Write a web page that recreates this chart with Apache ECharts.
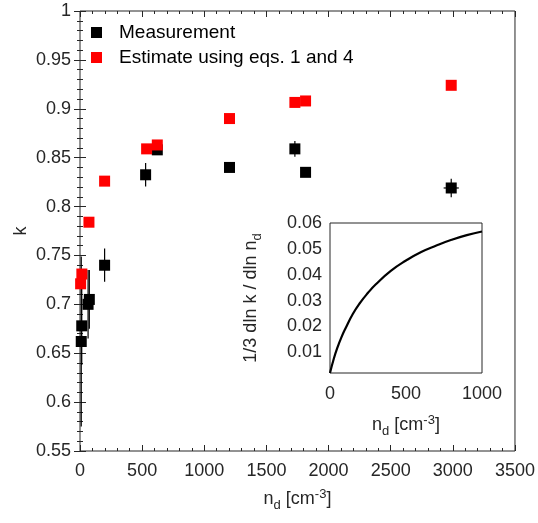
<!DOCTYPE html>
<html>
<head>
<meta charset="utf-8">
<script src="https://cdn.jsdelivr.net/npm/echarts@6/dist/echarts.min.js"></script>
<style>
  html, body { margin: 0; padding: 0; background: #fff; }
  #chart { width: 538px; height: 523px; }
</style>
</head>
<body>
<div id="chart"></div>
<script>
// measured k with error bars
var measX = [10, 14, 65, 75, 198, 528, 622, 1203, 1729, 1815, 2987]
var measK = [0.662, 0.678, 0.700, 0.705, 0.740, 0.8325, 0.858, 0.840, 0.859, 0.835, 0.819]
var measKErr = [0.087, 0.04, 0.035, 0.03, 0.017, 0.012, 0.005, 0.004, 0.008, 0.002, 0.0095]
var measXErr = [0, 0, 0, 0, 0, 0, 0, 0, 0, 0, 61]

// estimate from eqs. 1 and 4
var estX = [5, 15, 72, 198, 536, 622, 1203, 1729, 1815, 2987]
var estK = [0.721, 0.731, 0.784, 0.826, 0.859, 0.863, 0.890, 0.9065, 0.908, 0.924]

// inset curve
var insetX = [0, 25, 50, 75, 100, 150, 200, 250, 300, 400, 500, 600, 700, 800, 900, 1000]
var insetY = [0.002, 0.0075, 0.012, 0.0158, 0.019, 0.0248, 0.0293, 0.0330, 0.0362, 0.0415, 0.0455, 0.0488, 0.0513, 0.0535, 0.0553, 0.0567]
var insetYTicks = [0.01, 0.02, 0.03, 0.04, 0.05, 0.06]

var FONT = 'Liberation Sans, Arial, Helvetica, sans-serif'
var AX = '#262626'

function pairs(xs, ys) {
  return xs.map(function(x, i) { return [x, ys[i]] })
}

var errData = measX.map(function(x, i) {
  return [x, measK[i], measKErr[i], measXErr[i]]
})

var nameRich = {
  a: { fontSize: 18, fontFamily: FONT, color: AX },
  sub: { fontSize: 13, fontFamily: FONT, color: AX, padding: [12, 0, 0, 0] },
  sup: { fontSize: 13, fontFamily: FONT, color: AX, padding: [0, 0, 10, 0] }
}
var ndName = '{a|n}{sub|d}{a| [cm}{sup|-3}{a|]}'

var tickStyle = { show: true, inside: true, length: 6, lineStyle: { color: AX, width: 1 } }
var minorStyle = { show: true, splitNumber: 5, length: 3, lineStyle: { color: AX, width: 1 } }
var labelStyle = { fontSize: 18, fontFamily: FONT, color: AX, formatter: function(v) { return String(v) } }

var chart = echarts.init(document.getElementById('chart'))
chart.setOption({
  animation: false,
  backgroundColor: '#fff',
  legend: {
    orient: 'vertical',
    left: 91,
    top: 23,
    padding: 0,
    itemWidth: 11,
    itemHeight: 11,
    itemGap: 6,
    icon: 'rect',
    data: ['Measurement', 'Estimate using eqs. 1 and 4'],
    textStyle: { fontSize: 19, fontFamily: FONT, color: '#000', padding: [0, 0, 0, 12] }
  },
  grid: [
    { left: 80, right: 21, top: 11, bottom: 72, show: true, borderColor: AX, borderWidth: 1, backgroundColor: '#fff' },
    { left: 330, right: 56, top: 223, bottom: 150, show: true, borderColor: AX, borderWidth: 1, backgroundColor: '#fff', z: 5 }
  ],
  xAxis: [
    {
      gridIndex: 0, type: 'value', min: 0, max: 3500, interval: 500,
      axisLine: { show: false }, axisTick: tickStyle, minorTick: minorStyle,
      splitLine: { show: false },
      axisLabel: Object.assign({ margin: 11 }, labelStyle),
      name: ndName, nameLocation: 'middle', nameGap: 36,
      nameTextStyle: { rich: nameRich }
    },
    {
      gridIndex: 0, type: 'value', min: 0, max: 3500, interval: 500, position: 'top',
      axisLine: { show: false }, axisTick: tickStyle, minorTick: minorStyle,
      splitLine: { show: false }, axisLabel: { show: false }
    },
    {
      gridIndex: 1, type: 'value', min: 0, max: 1000, interval: 500, z: 6,
      axisLine: { show: false }, axisTick: { show: false },
      splitLine: { show: false },
      axisLabel: Object.assign({ margin: 12 }, labelStyle),
      name: ndName, nameLocation: 'middle', nameGap: 40,
      nameTextStyle: { rich: nameRich }
    }
  ],
  yAxis: [
    {
      gridIndex: 0, type: 'value', min: 0.55, max: 1, interval: 0.05,
      axisLine: { show: false }, axisTick: tickStyle, minorTick: minorStyle,
      splitLine: { show: false },
      axisLabel: Object.assign({ margin: 9 }, labelStyle),
      name: 'k', nameLocation: 'middle', nameGap: 50, nameMoveOverlap: false,
      nameTextStyle: { fontSize: 18, fontFamily: FONT, color: AX }
    },
    {
      gridIndex: 0, type: 'value', min: 0.55, max: 1, interval: 0.05, position: 'right',
      axisLine: { show: false }, axisTick: tickStyle, minorTick: minorStyle,
      splitLine: { show: false }, axisLabel: { show: false }
    },
    {
      gridIndex: 1, type: 'value', min: 0.002, max: 0.06, z: 6,
      axisLine: { show: false }, axisTick: { show: false },
      splitLine: { show: false },
      axisLabel: Object.assign({ margin: 8, customValues: insetYTicks }, labelStyle),
      name: '{a|1/3 dln k / dln n}{sub|d}', nameLocation: 'middle', nameGap: 66,
      nameTextStyle: { rich: nameRich }
    }
  ],
  series: [
    {
      name: 'errors',
      type: 'custom',
      xAxisIndex: 0,
      yAxisIndex: 0,
      z: 1,
      encode: { x: 0, y: 1 },
      data: errData,
      renderItem: function(params, api) {
        var x = api.value(0), y = api.value(1), e = api.value(2), xe = api.value(3)
        var top = api.coord([x, y + e])
        var bot = api.coord([x, y - e])
        var kids = [{
          type: 'line',
          shape: { x1: top[0], y1: top[1], x2: bot[0], y2: bot[1] },
          style: { stroke: '#000', lineWidth: 1.2 }
        }]
        if (xe > 0) {
          var l = api.coord([x - xe, y])
          var r = api.coord([x + xe, y])
          kids.push({
            type: 'line',
            shape: { x1: l[0], y1: l[1], x2: r[0], y2: r[1] },
            style: { stroke: '#000', lineWidth: 1.2 }
          })
        }
        return { type: 'group', children: kids }
      }
    },
    {
      name: 'Measurement',
      type: 'scatter',
      xAxisIndex: 0,
      yAxisIndex: 0,
      symbol: 'rect',
      symbolSize: 11,
      z: 3,
      itemStyle: { color: '#000', opacity: 1 },
      data: pairs(measX, measK)
    },
    {
      name: 'Estimate using eqs. 1 and 4',
      type: 'scatter',
      xAxisIndex: 0,
      yAxisIndex: 0,
      symbol: 'rect',
      symbolSize: 11,
      z: 4,
      itemStyle: { color: '#ff0000', opacity: 1 },
      data: pairs(estX, estK)
    },
    {
      name: 'inset',
      type: 'line',
      xAxisIndex: 2,
      yAxisIndex: 2,
      smooth: true,
      showSymbol: false,
      z: 7,
      lineStyle: { color: '#000', width: 2.2 },
      data: pairs(insetX, insetY)
    }
  ]
})
</script>
</body>
</html>
